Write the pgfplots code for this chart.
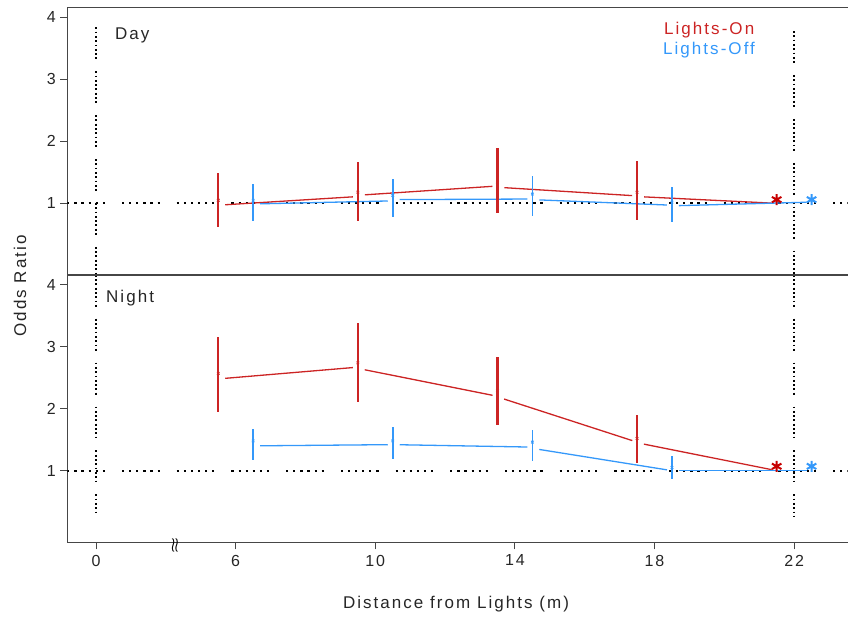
\documentclass[border=0pt]{standalone}
\usepackage{amsmath}
\usepackage{fontspec}
\setmainfont{Liberation Sans}[LetterSpace=12]
\usepackage{pgfplots}
\pgfplotsset{compat=1.18}
\definecolor{cred}{RGB}{204,36,36}
\definecolor{cblue}{RGB}{52,152,250}
\definecolor{axgray}{RGB}{70,70,70}
\pgfplotsset{
  panel/.style={
    scale only axis, width=780.2pt, height=267.5pt,
    xmin=1.175, xmax=23.53, ymin=-0.156, ymax=4.16,
    axis x line=box, axis y line=left,
    axis line style={-, axgray, line width=1.2pt},
    tick align=outside, major tick length=7pt,
    tick style={axgray, line width=1.1pt},
    xtick pos=left, ytick pos=left,
    ytick={1,2,3,4},
    /pgf/number format/assume math mode=true,
    ticklabel style={font=\fontsize{16}{19}\selectfont, text=black!85},
    yticklabel style={xshift=-1pt},
  },
  refline/.style={black, line width=2.2pt, dash pattern=on 2.2pt off 4.9pt on 2.2pt off 4.9pt on 2.2pt off 4.9pt on 2.2pt off 4.9pt on 2.2pt off 4.9pt on 2.2pt off 17pt},
  vline/.style={black, line width=2pt, dash pattern=on 1.8pt off 2.5pt on 1.8pt off 2.5pt on 1.8pt off 2.5pt on 1.8pt off 2.5pt on 1.8pt off 2.5pt on 1.8pt off 2.5pt on 1.8pt off 2.5pt on 1.8pt off 12pt},
  redseg/.style={cred, line width=1.3pt, no marks, shorten <=7pt, shorten >=5pt},
  blueseg/.style={cblue, line width=1.3pt, no marks, shorten <=7pt, shorten >=5pt},
  redpts/.style={only marks, mark=x, mark size=1.8pt, cred, mark options={line width=0.9pt},
    error bars/.cd, y dir=both, y explicit, error mark=none,
    error bar style={cred, line width=2.2pt}},
  bluepts/.style={only marks, mark=x, mark size=1.8pt, cblue, mark options={line width=0.9pt},
    error bars/.cd, y dir=both, y explicit, error mark=none,
    error bar style={cblue, line width=1.7pt}},
  redstar/.style={only marks, mark=asterisk, mark size=5.5pt, mark options={line width=2pt, color=red!78!black}},
  bluestar/.style={only marks, mark=asterisk, mark size=5.5pt, mark options={line width=2pt, color=cblue}},
}
\begin{document}
\begin{tikzpicture}
\path[use as bounding box] (-67.3pt,-73.7pt) rectangle (780.7pt,542.3pt);
% ---------------- Night (bottom) ----------------
\begin{axis}[panel, at={(0,0)}, anchor=south west,
  xtick={2,6,10,14,18,22}, xticklabels={0,6,10,14,18,22},
  xticklabel style={yshift=-2pt}]
\addplot[refline] coordinates {(1.175,1) (23.53,1)};
\addplot[vline] coordinates {(2,4.16) (2,0.34)};
\addplot[vline] coordinates {(22,4.16) (22,0.27)};
% Lights-On segments
\addplot[redseg] coordinates {(5.5,2.48) (9.5,2.67)};
\addplot[redseg] coordinates {(9.5,2.65) (13.5,2.20)};
\addplot[redseg] coordinates {(13.5,2.19) (17.5,1.46)};
\addplot[redseg] coordinates {(17.5,1.45) (21.5,1.00)};
% Lights-Off segments
\addplot[blueseg] coordinates {(6.5,1.40) (10.5,1.42)};
\addplot[blueseg] coordinates {(10.5,1.42) (14.5,1.38)};
\addplot[blueseg] coordinates {(14.5,1.36) (18.5,1.00)};
\addplot[blueseg] coordinates {(18.5,1.00) (22.5,1.00)};
\addplot[redpts] coordinates {
  (5.5,2.57) += (0,0.59) -= (0,0.63)
  (9.5,2.74) += (0,0.64) -= (0,0.64)
  (13.5,2.29) += (0,0.54) -= (0,0.55)
  (17.5,1.52) += (0,0.38) -= (0,0.40)
};
\addplot[bluepts] coordinates {
  (6.5,1.48) += (0,0.20) -= (0,0.31)
  (10.5,1.48) += (0,0.23) -= (0,0.30)
  (14.5,1.46) += (0,0.19) -= (0,0.31)
  (18.5,1.05) += (0,0.18) -= (0,0.19)
};
\addplot[redstar] coordinates {(21.5,1.07)};
\addplot[bluestar] coordinates {(22.5,1.07)};
\end{axis}
% ---------------- Day (top) ----------------
\begin{axis}[panel, at={(0,267.3pt)}, anchor=south west, xtick=\empty]
\addplot[refline] coordinates {(1.175,1) (23.53,1)};
\addplot[vline] coordinates {(2,3.84) (2,-0.156)};
\addplot[vline] coordinates {(22,3.78) (22,-0.156)};
\addplot[redseg] coordinates {(5.5,0.97) (9.5,1.11)};
\addplot[redseg] coordinates {(9.5,1.13) (13.5,1.28)};
\addplot[redseg] coordinates {(13.5,1.26) (17.5,1.12)};
\addplot[redseg] coordinates {(17.5,1.11) (21.5,1.00)};
\addplot[blueseg] coordinates {(6.5,0.99) (10.5,1.04)};
\addplot[blueseg] coordinates {(10.5,1.06) (14.5,1.07)};
\addplot[blueseg] coordinates {(14.5,1.06) (18.5,0.97)};
\addplot[blueseg] coordinates {(18.5,0.96) (22.5,1.02)};
\addplot[redpts] coordinates {
  (5.5,1.05) += (0,0.44) -= (0,0.43)
  (9.5,1.18) += (0,0.48) -= (0,0.46)
  (13.5,1.33) += (0,0.56) -= (0,0.48)
  (17.5,1.18) += (0,0.50) -= (0,0.45)
};
\addplot[bluepts] coordinates {
  (6.5,1.05) += (0,0.26) -= (0,0.33)
  (10.5,1.13) += (0,0.27) -= (0,0.35)
  (14.5,1.15) += (0,0.29) -= (0,0.35)
  (18.5,1.02) += (0,0.24) -= (0,0.32)
};
\addplot[redstar] coordinates {(21.5,1.06)};
\addplot[bluestar] coordinates {(22.5,1.06)};
\end{axis}
% ---------------- labels ----------------
\node[anchor=west, font=\fontsize{17}{20}\selectfont, text=black!85, inner sep=0] at (47.7pt,507.3pt) {Day};
\node[anchor=west, font=\fontsize{17}{20}\selectfont, text=black!85, inner sep=0] at (38.7pt,244.3pt) {Night};
\node[anchor=west, font=\fontsize{17}{20}\selectfont, text=cred, inner sep=0] at (596.7pt,512.3pt) {Lights-On};
\node[anchor=west, font=\fontsize{17}{20}\selectfont, text=cblue, inner sep=0] at (595.7pt,492.3pt) {Lights-Off};
\node[font=\fontsize{17}{20}\selectfont, text=black!85] at (388.7pt,-61.7pt) {Distance from Lights (m)};
\node[rotate=90, font=\fontsize{17}{20}\selectfont, text=black!85] at (-47.3pt,256.3pt) {Odds Ratio};
\node[inner sep=0] at (107.7pt,-3pt) {\scalebox{1.3}[2.0]{$\boldsymbol{\wr}\mkern-1mu\boldsymbol{\wr}$}};
\end{tikzpicture}
\end{document}
